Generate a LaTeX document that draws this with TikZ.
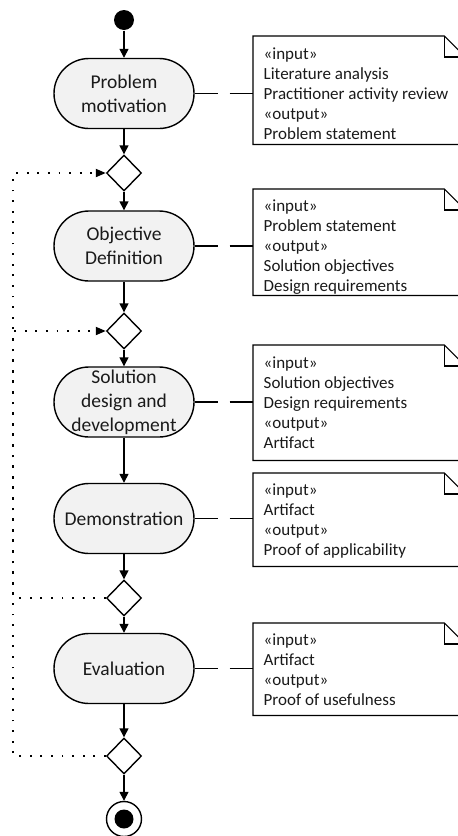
\documentclass[tikz,border=0pt]{standalone}
\usepackage{fontspec}
\setmainfont{Carlito}
\usetikzlibrary{arrows.meta,shapes.geometric}
\definecolor{actfill}{HTML}{F2F2F2}
\definecolor{ink}{HTML}{1A1A1A}
\newcommand\notefold[1]{%
  \draw[noteline] (#1.north west) -- ([xshift=-21pt]#1.north east) -- ([yshift=-21pt]#1.north east) -- (#1.south east) -- (#1.south west) -- cycle;
  \draw[noteline] ([xshift=-21pt]#1.north east) -- ([xshift=-21pt,yshift=-21pt]#1.north east) -- ([yshift=-21pt]#1.north east);}
\begin{document}
\begin{tikzpicture}[x=1pt,y=-1pt,
  line width=1.4pt,
  act/.style={draw, fill=actfill, rounded corners=35pt, minimum width=140pt, minimum height=70pt, inner sep=0pt, align=center, text=ink, font=\fontsize{19.5}{24}\selectfont},
  dec/.style={draw, diamond, minimum width=35pt, minimum height=36pt, inner sep=0pt, fill=white},
  flow/.style={-{Triangle[length=9pt,width=9pt]}},
  loopline/.style={dash pattern=on 1.8pt off 8.8pt, line width=1.8pt, -{Triangle[length=10pt,width=8pt]}},
  notebox/.style={minimum width=211pt, inner sep=0pt, anchor=north west},
  noteline/.style={line width=1.2pt},
  notetxt/.style={anchor=north west, align=left, inner sep=0pt, text=ink, font=\fontsize{17}{20}\selectfont},
  link/.style={line width=1.2pt, dash pattern=on 23pt off 12pt}
]
\useasboundingbox (0,0) rectangle (458,836);

% start / end
\node[circle, fill=black, minimum size=20pt, inner sep=0pt] (s) at (124,20) {};
% activities
\node[act] (a1) at (124,93.5) {Problem\\motivation};
\node[dec] (d1) at (124,173) {};
\node[act] (a2) at (124,246) {Objective\\Definition};
\node[dec] (d2) at (124,331) {};
\node[act] (a3) at (124,402) {Solution\\design and\\development};
\node[act] (a4) at (124,518.5) {Demonstration};
\node[dec] (d3) at (124,598) {};
\node[act] (a5) at (124,668.5) {Evaluation};
\node[dec] (d4) at (124,756) {};
\node[circle, draw, minimum size=35pt, inner sep=0pt] (e) at (124,819) {};
\node[circle, fill=black, minimum size=19pt, inner sep=0pt] (ei) at (e.center) {};

% flow
\draw[flow] (s) -- (a1);
\draw[flow] (a1) -- (d1);
\draw[flow] (d1) -- (a2);
\draw[flow] (a2) -- (d2);
\draw[flow] (d2) -- (a3);
\draw[flow] (a3) -- (a4);
\draw[flow] (a4) -- (d3);
\draw[flow] (d3) -- (a5);
\draw[flow] (a5) -- (d4);
\draw[flow] (d4) -- (e);

% loops
\draw[loopline] (d4.west) -- ++(-92.5,0) |- (d1.west);
\draw[loopline] (d3.west) -- ++(-92.5,0) |- (d2.west);

% notes
\node[notebox, minimum height=107pt] (n1) at (253,36) {};
\node[notebox, minimum height=105pt] (n2) at (253,189) {};
\node[notebox, minimum height=114pt] (n3) at (253,345) {};
\node[notebox, minimum height=92pt] (n4) at (253,473) {};
\node[notebox, minimum height=91pt] (n5) at (253,623) {};
\notefold{n1}\notefold{n2}\notefold{n3}\notefold{n4}\notefold{n5}

\node[notetxt] (t1) at (263,47) {«input»\\Literature analysis\\Practitioner activity review\\«output»\\Problem statement};
\node[notetxt] (t2) at (263,199) {«input»\\Problem statement\\«output»\\Solution objectives\\Design requirements};
\node[notetxt] (t3) at (263,356) {«input»\\Solution objectives\\Design requirements\\«output»\\Artifact};
\node[notetxt] (t4) at (263,483) {«input»\\Artifact\\«output»\\Proof of applicability};
\node[notetxt] (t5) at (263,633) {«input»\\Artifact\\«output»\\Proof of usefulness};

% links
\draw[link] (a1.east) -- (a1.east -| n1.west);
\draw[link] (a2.east) -- (a2.east -| n2.west);
\draw[link] (a3.east) -- (a3.east -| n3.west);
\draw[link] (a4.east) -- (a4.east -| n4.west);
\draw[link] (a5.east) -- (a5.east -| n5.west);
\end{tikzpicture}
\end{document}
